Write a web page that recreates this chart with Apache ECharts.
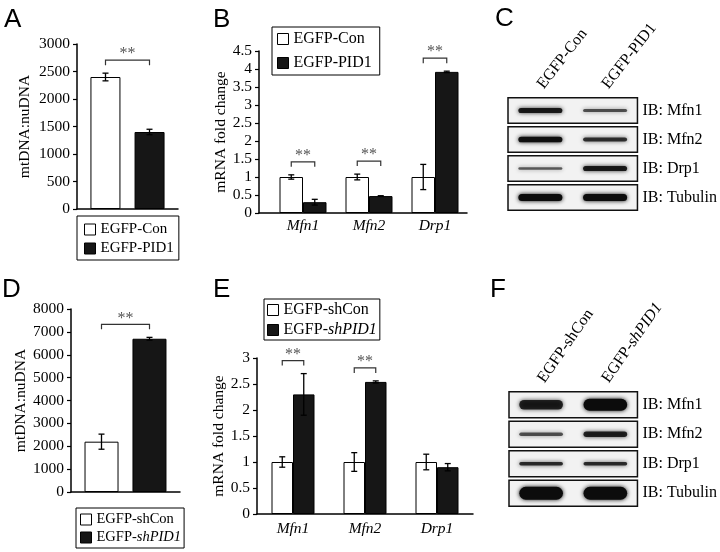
<!DOCTYPE html>
<html>
<head>
<meta charset="utf-8">
<script src="https://cdn.jsdelivr.net/npm/echarts@6/dist/echarts.min.js"></script>
<style>
html, body { margin: 0; padding: 0; background: #fff; }
#main { width: 720px; height: 552px; }
</style>
</head>
<body>
<div id="main"></div>
<script>
// A: mtDNA copy number, overexpression
var groupsA = ['EGFP-Con', 'EGFP-PID1'];
var valuesA = [2400, 1400];
var errorsA = [70, 50];

// B: mRNA, overexpression
var genes = ['Mfn1', 'Mfn2', 'Drp1'];
var conB = [1.0, 1.0, 1.0];
var conErrB = [0.06, 0.08, 0.35];
var pidB = [0.3, 0.47, 3.92];
var pidErrB = [0.08, 0.01, 0.02];
var sigB = [1, 1, 1];

// C: western blot, band intensity per lane (0..1)
var blots = ['IB: Mfn1', 'IB: Mfn2', 'IB: Drp1', 'IB: Tubulin'];
var lanesC = ['EGFP-Con', 'EGFP-PID1'];
var bandsC1 = [0.85, 0.95, 0.45, 1.0];
var bandsC2 = [0.5, 0.7, 0.85, 1.0];

// D: mtDNA copy number, knockdown
var groupsD = ['EGFP-shCon', 'EGFP-shPID1'];
var valuesD = [2200, 6700];
var errorsD = [330, 60];

// E: mRNA, knockdown
var conE = [1.0, 1.0, 1.0];
var conErrE = [0.1, 0.18, 0.15];
var shE = [2.3, 2.54, 0.9];
var shErrE = [0.4, 0.02, 0.07];
var sigE = [1, 1, 0];

// F: western blot, knockdown
var lanesF = ['EGFP-shCon', 'EGFP-shPID1'];
var bandsF1 = [0.8, 0.5, 0.75, 1.0];
var bandsF2 = [1.0, 0.8, 0.75, 1.0];

var SERIF = '"Liberation Serif", "Times New Roman", serif';
var SANS = '"Liberation Sans", Arial, sans-serif';
var DARK = '#161616';

var myChart = echarts.init(document.getElementById('main'));

// italic gene symbol inside "EGFP-shPID1"
function fmtName(n) {
  if (n.indexOf('shPID1') >= 0) return '{r|EGFP-}{i|shPID1}';
  return '{r|' + n + '}';
}
function richText(size) {
  return {
    r: { fontFamily: SERIF, fontSize: size, color: '#000' },
    i: { fontFamily: SERIF, fontSize: size, color: '#000', fontStyle: 'italic' }
  };
}

function valueY(gi, max, step, name, gap, show) {
  return {
    gridIndex: gi, type: 'value', min: 0, max: max, interval: step, show: show,
    axisLine: { show: true, lineStyle: { color: '#000', width: 1.5 } },
    axisTick: { show: true, length: 4, lineStyle: { color: '#000', width: 1.2 } },
    splitLine: { show: false },
    axisLabel: { fontFamily: SERIF, fontSize: 15.5, color: '#000', margin: 7,
      formatter: function (v) { return String(v); } },
    name: name, nameLocation: 'middle', nameGap: gap,
    nameTextStyle: { fontFamily: SERIF, fontSize: 15.5, color: '#000' }
  };
}

function catX(gi, data, showLine, showLabel, margin) {
  return {
    gridIndex: gi, type: 'category', data: data,
    axisLine: { show: showLine, lineStyle: { color: '#000', width: 1.5 } },
    axisTick: { show: false },
    axisLabel: { show: showLabel, fontFamily: SERIF, fontSize: 15.5, color: '#000',
      fontStyle: 'italic', margin: margin }
  };
}

function bar(name, gi, data, white, w, gap) {
  return {
    type: 'bar', name: name, xAxisIndex: gi, yAxisIndex: gi, data: data,
    barWidth: w, barGap: gap,
    itemStyle: white ? { color: '#fff', borderColor: '#000', borderWidth: 1 }
                     : { color: DARK, borderColor: '#000', borderWidth: 1 }
  };
}

function errorBars(gi, vals, errs, off) {
  return {
    type: 'custom', xAxisIndex: gi, yAxisIndex: gi, z: 5, silent: true,
    data: vals.map(function (v, i) { return [i, v, errs[i]]; }),
    renderItem: function (params, api) {
      var c = api.value(0), v = api.value(1), e = api.value(2);
      var x = api.coord([c, v])[0] + off;
      var yT = api.coord([c, v + e])[1], yB = api.coord([c, v - e])[1];
      var st = { stroke: '#000', lineWidth: 1.3 };
      return { type: 'group', children: [
        { type: 'line', shape: { x1: x, y1: yT, x2: x, y2: yB }, style: st },
        { type: 'line', shape: { x1: x - 3, y1: yT, x2: x + 3, y2: yT }, style: st },
        { type: 'line', shape: { x1: x - 3, y1: yB, x2: x + 3, y2: yB }, style: st }
      ] };
    }
  };
}

// significance bracket over the pair of bars in a category
function sigBrackets(gi, tops, flags, off) {
  var d = [];
  tops.forEach(function (t, i) { if (flags[i]) d.push([i, t]); });
  return {
    type: 'custom', xAxisIndex: gi, yAxisIndex: gi, z: 6, silent: true, data: d,
    renderItem: function (params, api) {
      var p = api.coord([api.value(0), api.value(1)]);
      var y = p[1] - 13, x1 = p[0] - off, x2 = p[0] + off;
      return { type: 'group', children: [
        { type: 'polyline', shape: { points: [[x1, y + 5], [x1, y], [x2, y], [x2, y + 5]] },
          style: { stroke: '#333', lineWidth: 1.2, fill: null } },
        { type: 'text', style: { x: (x1 + x2) / 2, y: y - 6, text: '**', fill: '#555',
          font: '16px ' + SERIF, align: 'center', verticalAlign: 'middle' } }
      ] };
    }
  };
}

function tops(a, ea, b, eb) {
  return a.map(function (v, i) { return Math.max(v + ea[i], b[i] + eb[i]); });
}

// western blot: one framed strip per antibody, soft bands per lane
function blotSeries(gi, l1, l2, thick) {
  return {
    type: 'custom', xAxisIndex: gi, yAxisIndex: gi, silent: true,
    data: blots.map(function (b, i) { return [0, i, l1[i], l2[i]]; }),
    renderItem: function (params, api) {
      var row = api.value(1);
      var p0 = api.coord([0, row]), p1 = api.coord([1, row]);
      var sz = api.size([1, 1]);
      var left = p0[0] - sz[0] / 2, right = p1[0] + sz[0] / 2;
      var h = sz[1] - 3.5;
      var kids = [{ type: 'rect', shape: { x: left, y: p0[1] - h / 2, width: right - left, height: h },
        style: { fill: '#f2f2f2', stroke: '#111', lineWidth: 1.5 } }];
      [p0, p1].forEach(function (p, k) {
        var t = api.value(2 + k);
        var th = thick[row] * t;
        var bw = sz[0] * 0.68;
        var col = 'rgba(12,12,12,' + (0.3 + 0.7 * t).toFixed(2) + ')';
        kids.push({ type: 'rect', shape: { x: p[0] - bw / 2, y: p[1] - th / 2, width: bw, height: th, r: th / 2 },
          style: { fill: col, shadowBlur: 4, shadowColor: col } });
      });
      return { type: 'group', children: kids };
    }
  };
}

function blotAxes(gi, lanes, rot) {
  return {
    x: { gridIndex: gi, type: 'category', data: lanes, position: 'top',
      axisLine: { show: false }, axisTick: { show: false },
      axisLabel: { rotate: rot, margin: 9, formatter: fmtName, rich: richText(16) } },
    y: { gridIndex: gi, type: 'category', data: blots, inverse: true, position: 'right',
      axisLine: { show: false }, axisTick: { show: false },
      axisLabel: { margin: 5, fontFamily: SERIF, fontSize: 16, color: '#000' } }
  };
}

function legend(names, x, y, pad, gap, size) {
  return {
    orient: 'vertical', left: x, top: y, padding: pad, itemGap: gap,
    itemWidth: 11, itemHeight: 11, icon: 'rect', selectedMode: false,
    borderColor: '#000', borderWidth: 1,
    data: [
      { name: names[0], itemStyle: { color: '#fff', borderColor: '#000', borderWidth: 1 } },
      { name: names[1], itemStyle: { color: DARK, borderColor: '#000', borderWidth: 1 } }
    ],
    formatter: fmtName,
    textStyle: { fontFamily: SERIF, fontSize: size, color: '#000', rich: richText(size) }
  };
}

var axC = blotAxes(3, lanesC, -52);
var axF = blotAxes(6, lanesF, -55);

var letter = function (t, x, y) {
  return { text: t, left: x, top: y, padding: 0,
    textStyle: { fontFamily: SANS, fontSize: 26, fontWeight: 'normal', color: '#000' } };
};

var option = {
  animation: false,
  backgroundColor: '#fff',
  title: [letter('A', 4, 7), letter('B', 213, 7), letter('C', 495, 6),
          letter('D', 2, 277), letter('E', 213, 277), letter('F', 490, 277)],
  legend: [
    legend(groupsA, 77, 216, [6, 5, 4, 7], 4, 15),
    legend(lanesC, 272, 27, [4, 8, 4, 5], 8, 16),
    legend(groupsD, 76, 508, [4, 3, 3, 4], 3, 14.5),
    legend(lanesF, 264, 299, [3, 3, 2, 3], 4, 16)
  ],
  grid: [
    { left: 77, top: 44, width: 101, height: 165 },   // A
    { left: 259, top: 51, width: 208, height: 162 },  // B axes
    { left: 270, top: 51, width: 198, height: 162 },  // B bars
    { left: 508, top: 96, width: 130, height: 116 },  // C blot
    { left: 71, top: 309, width: 109, height: 183 },  // D
    { left: 257, top: 358, width: 216, height: 156 }, // E
    { left: 509, top: 390, width: 130, height: 118 }  // F blot
  ],
  xAxis: [
    catX(0, [''], true, false, 0),
    { gridIndex: 1, type: 'value', min: 0, max: 1, axisLine: { show: true, lineStyle: { color: '#000', width: 1.5 } },
      axisTick: { show: false }, axisLabel: { show: false }, splitLine: { show: false } },
    catX(2, genes, false, true, 5),
    axC.x,
    catX(4, [''], true, false, 0),
    catX(5, genes, true, true, 7),
    axF.x
  ],
  yAxis: [
    valueY(0, 3000, 500, 'mtDNA:nuDNA', 44, true),
    valueY(1, 4.5, 0.5, 'mRNA fold change', 29, true),
    valueY(2, 4.5, 0.5, '', 0, false),
    axC.y,
    valueY(4, 8000, 1000, 'mtDNA:nuDNA', 41, true),
    valueY(5, 3, 0.5, 'mRNA fold change', 30, true),
    axF.y
  ],
  series: [
    bar(groupsA[0], 0, [valuesA[0]], true, 30, '47%'),
    bar(groupsA[1], 0, [valuesA[1]], false, 30, '47%'),
    errorBars(0, [valuesA[0]], [errorsA[0]], -22),
    errorBars(0, [valuesA[1]], [errorsA[1]], 22),
    sigBrackets(0, tops([valuesA[0]], [errorsA[0]], [valuesA[1]], [errorsA[1]]), [1], 22),

    bar(groupsA[0], 2, conB, true, 23.5, '0%'),
    bar(groupsA[1], 2, pidB, false, 23.5, '0%'),
    errorBars(2, conB, conErrB, -11.75),
    errorBars(2, pidB, pidErrB, 11.75),
    sigBrackets(2, tops(conB, conErrB, pidB, pidErrB), sigB, 11.75),

    blotSeries(3, bandsC1, bandsC2, [6, 6, 6, 7]),

    bar(groupsD[0], 4, [valuesD[0]], true, 34, '41%'),
    bar(groupsD[1], 4, [valuesD[1]], false, 34, '41%'),
    errorBars(4, [valuesD[0]], [errorsD[0]], -24),
    errorBars(4, [valuesD[1]], [errorsD[1]], 24),
    sigBrackets(4, tops([valuesD[0]], [errorsD[0]], [valuesD[1]], [errorsD[1]]), [1], 24),

    bar(groupsD[0], 5, conE, true, 21.5, '0%'),
    bar(groupsD[1], 5, shE, false, 21.5, '0%'),
    errorBars(5, conE, conErrE, -10.75),
    errorBars(5, shE, shErrE, 10.75),
    sigBrackets(5, tops(conE, conErrE, shE, shErrE), sigE, 10.75),

    blotSeries(6, bandsF1, bandsF2, [12, 7, 4.5, 13])
  ]
};

myChart.setOption(option);
</script>
</body>
</html>
